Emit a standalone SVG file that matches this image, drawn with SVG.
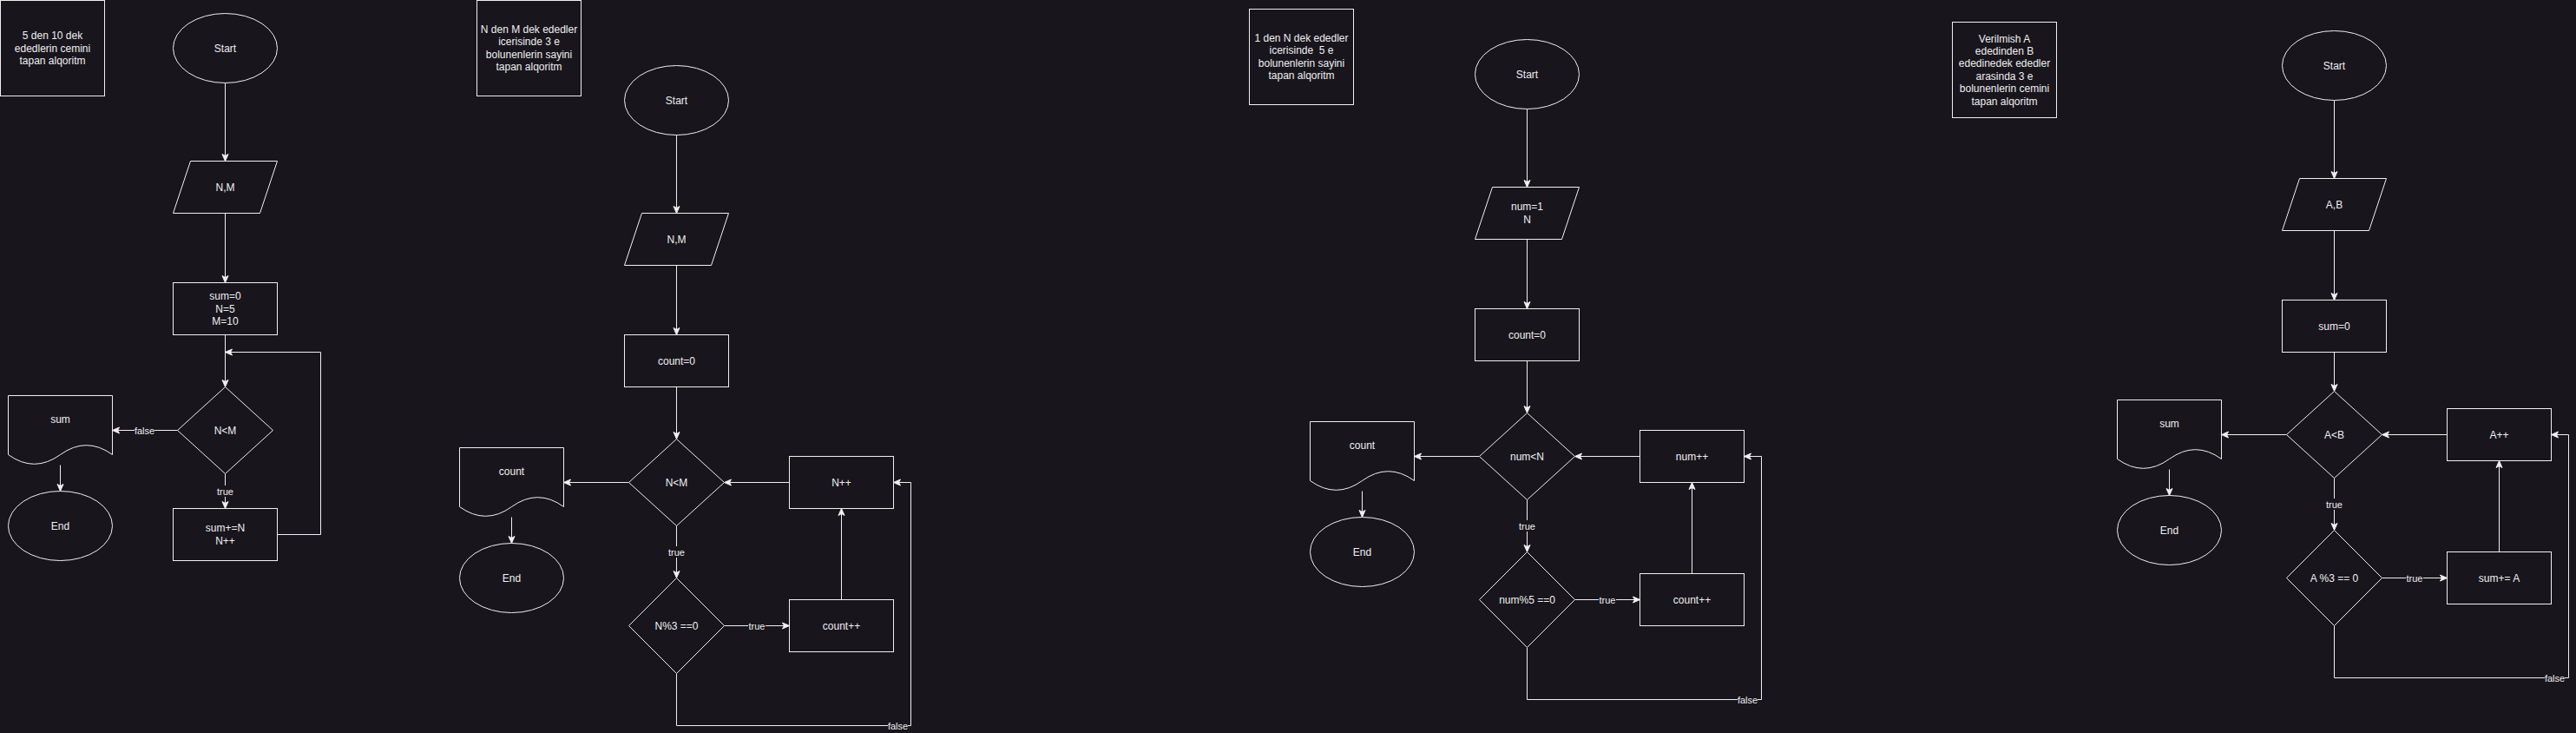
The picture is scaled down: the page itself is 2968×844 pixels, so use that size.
<svg xmlns="http://www.w3.org/2000/svg" width="2968" height="844" viewBox="0 0 2968 844">
<defs>
<style>
.bg{fill:#18151d}
.n{fill:#18151d;stroke:#f0f0f0;stroke-width:1}
.e{fill:none;stroke:#f0f0f0;stroke-width:1}
.t{font-family:"Liberation Sans",Arial,Helvetica,sans-serif;font-size:12px;fill:#f0f0f0;text-anchor:middle}
.l{font-family:"Liberation Sans",Arial,Helvetica,sans-serif;font-size:11px;fill:#f0f0f0;text-anchor:middle}
.lb{fill:#18151d}
</style>
<marker id="a" markerUnits="userSpaceOnUse" markerWidth="10" markerHeight="9" refX="9" refY="4.5" orient="auto">
<path d="M1,1 L9,4.5 L1,8 L3,4.5 Z" fill="#f0f0f0" stroke="#f0f0f0" stroke-width="1" stroke-linejoin="miter"/>
</marker>
</defs>
<rect class="bg" x="0" y="0" width="2968" height="844"/>

<g id="connectors">
<!-- chart 1 -->
<path class="e" d="M259.5 95.5 V185.5" marker-end="url(#a)"/>
<path class="e" d="M259.5 245.5 V325.5" marker-end="url(#a)"/>
<path class="e" d="M259.5 385.5 V445.5" marker-end="url(#a)"/>
<path class="e" d="M204.5 495.5 H129.5" marker-end="url(#a)"/>
<path class="e" d="M259.5 545.5 V585.5" marker-end="url(#a)"/>
<path class="e" d="M319.5 615.5 H369.5 V405.5 H259.5" marker-end="url(#a)"/>
<path class="e" d="M69.5 535.5 V565.5" marker-end="url(#a)"/>
<rect class="lb" x="155" y="489" width="23" height="13"/>
<text class="l" x="166.5" y="499.5">false</text>
<rect class="lb" x="250" y="559" width="20" height="13"/>
<text class="l" x="259.5" y="569.5">true</text>

<!-- chart 2 -->
<path class="e" d="M779.5 155.5 V245.5" marker-end="url(#a)"/>
<path class="e" d="M779.5 305.5 V385.5" marker-end="url(#a)"/>
<path class="e" d="M779.5 445.5 V505.5" marker-end="url(#a)"/>
<path class="e" d="M724.5 555.5 H649.5" marker-end="url(#a)"/>
<path class="e" d="M909.5 555.5 H834.5" marker-end="url(#a)"/>
<path class="e" d="M779.5 605.5 V665.5" marker-end="url(#a)"/>
<path class="e" d="M834.5 720.5 H909.5" marker-end="url(#a)"/>
<path class="e" d="M969.5 690.5 V585.5" marker-end="url(#a)"/>
<path class="e" d="M779.5 775.5 V835.5 H1049.5 V555.5 H1029.5" marker-end="url(#a)"/>
<path class="e" d="M589.5 595.5 V625.5" marker-end="url(#a)"/>
<rect class="lb" x="770" y="629" width="20" height="13"/>
<text class="l" x="779.5" y="639.5">true</text>
<rect class="lb" x="862" y="714" width="20" height="13"/>
<text class="l" x="872" y="724.5">true</text>
<rect class="lb" x="1023" y="829" width="23" height="13"/>
<text class="l" x="1034.5" y="839.5">false</text>

<!-- chart 3 -->
<path class="e" d="M1759.5 125.5 V215.5" marker-end="url(#a)"/>
<path class="e" d="M1759.5 275.5 V355.5" marker-end="url(#a)"/>
<path class="e" d="M1759.5 415.5 V475.5" marker-end="url(#a)"/>
<path class="e" d="M1704.5 525.5 H1629.5" marker-end="url(#a)"/>
<path class="e" d="M1889.5 525.5 H1814.5" marker-end="url(#a)"/>
<path class="e" d="M1759.5 575.5 V635.5" marker-end="url(#a)"/>
<path class="e" d="M1814.5 690.5 H1889.5" marker-end="url(#a)"/>
<path class="e" d="M1949.5 660.5 V555.5" marker-end="url(#a)"/>
<path class="e" d="M1759.5 745.5 V805.5 H2029.5 V525.5 H2009.5" marker-end="url(#a)"/>
<path class="e" d="M1569.5 565.5 V595.5" marker-end="url(#a)"/>
<rect class="lb" x="1750" y="599" width="20" height="13"/>
<text class="l" x="1759.5" y="609.5">true</text>
<rect class="lb" x="1842" y="684" width="20" height="13"/>
<text class="l" x="1852" y="694.5">true</text>
<rect class="lb" x="2002" y="799" width="23" height="13"/>
<text class="l" x="2013.5" y="809.5">false</text>

<!-- chart 4 -->
<path class="e" d="M2689.5 115.5 V205.5" marker-end="url(#a)"/>
<path class="e" d="M2689.5 265.5 V345.5" marker-end="url(#a)"/>
<path class="e" d="M2689.5 405.5 V450.5" marker-end="url(#a)"/>
<path class="e" d="M2634.5 500.5 H2559.5" marker-end="url(#a)"/>
<path class="e" d="M2819.5 500.5 H2744.5" marker-end="url(#a)"/>
<path class="e" d="M2689.5 550.5 V610.5" marker-end="url(#a)"/>
<path class="e" d="M2744.5 665.5 H2819.5" marker-end="url(#a)"/>
<path class="e" d="M2879.5 635.5 V530.5" marker-end="url(#a)"/>
<path class="e" d="M2689.5 720.5 V780.5 H2959.5 V500.5 H2939.5" marker-end="url(#a)"/>
<path class="e" d="M2499.5 540.5 V570.5" marker-end="url(#a)"/>
<rect class="lb" x="2680" y="574" width="20" height="13"/>
<text class="l" x="2689.5" y="584.5">true</text>
<rect class="lb" x="2772" y="659" width="20" height="13"/>
<text class="l" x="2782" y="669.5">true</text>
<rect class="lb" x="2932" y="774" width="23" height="13"/>
<text class="l" x="2943.5" y="784.5">false</text>
</g>

<!-- ===== chart 1 ===== -->
<g id="c1-title">
<rect class="n" x="0.5" y="0.5" width="120" height="110"/>
<text class="t" x="60.5" y="45">5 den 10 dek</text>
<text class="t" x="60.5" y="59.5">ededlerin cemini</text>
<text class="t" x="60.5" y="74">tapan alqoritm</text>
</g>
<g id="c1-start">
<ellipse class="n" cx="259.5" cy="55.5" rx="60" ry="40"/>
<text class="t" x="259.5" y="59.5">Start</text>
</g>
<g id="c1-input">
<polygon class="n" points="219.5,185.5 319.5,185.5 299.5,245.5 199.5,245.5"/>
<text class="t" x="259.5" y="219.5">N,M</text>
</g>
<g id="c1-init">
<rect class="n" x="199.5" y="325.5" width="120" height="60"/>
<text class="t" x="259.5" y="345">sum=0</text>
<text class="t" x="259.5" y="359.5">N=5</text>
<text class="t" x="259.5" y="374">M=10</text>
</g>
<g id="c1-cond">
<polygon class="n" points="259.5,445.5 314.5,495.5 259.5,545.5 204.5,495.5"/>
<text class="t" x="259.5" y="499.5">N&lt;M</text>
</g>
<g id="c1-out">
<path class="n" d="M9.5 455.5 L129.5 455.5 L129.5 523.5 Q99.5 501.9 69.5 523.5 Q39.5 545.1 9.5 523.5 Z"/>
<text class="t" x="69.5" y="487">sum</text>
</g>
<g id="c1-end">
<ellipse class="n" cx="69.5" cy="605.5" rx="60" ry="40"/>
<text class="t" x="69.5" y="609.5">End</text>
</g>
<g id="c1-body">
<rect class="n" x="199.5" y="585.5" width="120" height="60"/>
<text class="t" x="259.5" y="612">sum+=N</text>
<text class="t" x="259.5" y="626.5">N++</text>
</g>

<!-- ===== chart 2 ===== -->
<g id="c2-title">
<rect class="n" x="549.5" y="0.5" width="120" height="110"/>
<text class="t" x="609.5" y="38">N den M dek ededler</text>
<text class="t" x="609.5" y="52.4">icerisinde 3 e</text>
<text class="t" x="609.5" y="66.8">bolunenlerin sayini</text>
<text class="t" x="609.5" y="81.2">tapan alqoritm</text>
</g>
<g id="c2-start">
<ellipse class="n" cx="779.5" cy="115.5" rx="60" ry="40"/>
<text class="t" x="779.5" y="119.5">Start</text>
</g>
<g id="c2-input">
<polygon class="n" points="739.5,245.5 839.5,245.5 819.5,305.5 719.5,305.5"/>
<text class="t" x="779.5" y="279.5">N,M</text>
</g>
<g id="c2-init">
<rect class="n" x="719.5" y="385.5" width="120" height="60"/>
<text class="t" x="779.5" y="419.5">count=0</text>
</g>
<g id="c2-cond">
<polygon class="n" points="779.5,505.5 834.5,555.5 779.5,605.5 724.5,555.5"/>
<text class="t" x="779.5" y="559.5">N&lt;M</text>
</g>
<g id="c2-out">
<path class="n" d="M529.5 515.5 L649.5 515.5 L649.5 583.5 Q619.5 561.9 589.5 583.5 Q559.5 605.1 529.5 583.5 Z"/>
<text class="t" x="589.5" y="547">count</text>
</g>
<g id="c2-end">
<ellipse class="n" cx="589.5" cy="665.5" rx="60" ry="40"/>
<text class="t" x="589.5" y="669.5">End</text>
</g>
<g id="c2-inc">
<rect class="n" x="909.5" y="525.5" width="120" height="60"/>
<text class="t" x="969.5" y="559.5">N++</text>
</g>
<g id="c2-mod">
<polygon class="n" points="779.5,665.5 834.5,720.5 779.5,775.5 724.5,720.5"/>
<text class="t" x="779.5" y="724.5">N%3 ==0</text>
</g>
<g id="c2-count">
<rect class="n" x="909.5" y="690.5" width="120" height="60"/>
<text class="t" x="969.5" y="724.5">count++</text>
</g>

<!-- ===== chart 3 ===== -->
<g id="c3-title">
<rect class="n" x="1439.5" y="10.5" width="120" height="110"/>
<text class="t" x="1499.5" y="48">1 den N dek ededler</text>
<text class="t" x="1499.5" y="62.4" xml:space="preserve">icerisinde  5 e</text>
<text class="t" x="1499.5" y="76.8">bolunenlerin sayini</text>
<text class="t" x="1499.5" y="91.2">tapan alqoritm</text>
</g>
<g id="c3-start">
<ellipse class="n" cx="1759.5" cy="85.5" rx="60" ry="40"/>
<text class="t" x="1759.5" y="89.5">Start</text>
</g>
<g id="c3-input">
<polygon class="n" points="1719.5,215.5 1819.5,215.5 1799.5,275.5 1699.5,275.5"/>
<text class="t" x="1759.5" y="242.3">num=1</text>
<text class="t" x="1759.5" y="256.7">N</text>
</g>
<g id="c3-init">
<rect class="n" x="1699.5" y="355.5" width="120" height="60"/>
<text class="t" x="1759.5" y="389.5">count=0</text>
</g>
<g id="c3-cond">
<polygon class="n" points="1759.5,475.5 1814.5,525.5 1759.5,575.5 1704.5,525.5"/>
<text class="t" x="1759.5" y="529.5">num&lt;N</text>
</g>
<g id="c3-out">
<path class="n" d="M1509.5 485.5 L1629.5 485.5 L1629.5 553.5 Q1599.5 531.9 1569.5 553.5 Q1539.5 575.1 1509.5 553.5 Z"/>
<text class="t" x="1569.5" y="517">count</text>
</g>
<g id="c3-end">
<ellipse class="n" cx="1569.5" cy="635.5" rx="60" ry="40"/>
<text class="t" x="1569.5" y="639.5">End</text>
</g>
<g id="c3-inc">
<rect class="n" x="1889.5" y="495.5" width="120" height="60"/>
<text class="t" x="1949.5" y="529.5">num++</text>
</g>
<g id="c3-mod">
<polygon class="n" points="1759.5,635.5 1814.5,690.5 1759.5,745.5 1704.5,690.5"/>
<text class="t" x="1759.5" y="694.5">num%5 ==0</text>
</g>
<g id="c3-count">
<rect class="n" x="1889.5" y="660.5" width="120" height="60"/>
<text class="t" x="1949.5" y="694.5">count++</text>
</g>

<!-- ===== chart 4 ===== -->
<g id="c4-title">
<rect class="n" x="2249.5" y="25.5" width="120" height="110"/>
<text class="t" x="2309.5" y="48.5">Verilmish A</text>
<text class="t" x="2309.5" y="62.9">ededinden B</text>
<text class="t" x="2309.5" y="77.3">ededinedek ededler</text>
<text class="t" x="2309.5" y="91.7">arasinda 3 e</text>
<text class="t" x="2309.5" y="106.1">bolunenlerin cemini</text>
<text class="t" x="2309.5" y="120.5">tapan alqoritm</text>
</g>
<g id="c4-start">
<ellipse class="n" cx="2689.5" cy="75.5" rx="60" ry="40"/>
<text class="t" x="2689.5" y="79.5">Start</text>
</g>
<g id="c4-input">
<polygon class="n" points="2649.5,205.5 2749.5,205.5 2729.5,265.5 2629.5,265.5"/>
<text class="t" x="2689.5" y="239.5">A,B</text>
</g>
<g id="c4-init">
<rect class="n" x="2629.5" y="345.5" width="120" height="60"/>
<text class="t" x="2689.5" y="379.5">sum=0</text>
</g>
<g id="c4-cond">
<polygon class="n" points="2689.5,450.5 2744.5,500.5 2689.5,550.5 2634.5,500.5"/>
<text class="t" x="2689.5" y="504.5">A&lt;B</text>
</g>
<g id="c4-out">
<path class="n" d="M2439.5 460.5 L2559.5 460.5 L2559.5 528.5 Q2529.5 506.9 2499.5 528.5 Q2469.5 550.1 2439.5 528.5 Z"/>
<text class="t" x="2499.5" y="492">sum</text>
</g>
<g id="c4-end">
<ellipse class="n" cx="2499.5" cy="610.5" rx="60" ry="40"/>
<text class="t" x="2499.5" y="614.5">End</text>
</g>
<g id="c4-inc">
<rect class="n" x="2819.5" y="470.5" width="120" height="60"/>
<text class="t" x="2879.5" y="504.5">A++</text>
</g>
<g id="c4-mod">
<polygon class="n" points="2689.5,610.5 2744.5,665.5 2689.5,720.5 2634.5,665.5"/>
<text class="t" x="2689.5" y="669.5">A %3 == 0</text>
</g>
<g id="c4-sum">
<rect class="n" x="2819.5" y="635.5" width="120" height="60"/>
<text class="t" x="2879.5" y="669.5">sum+= A</text>
</g>
</svg>
